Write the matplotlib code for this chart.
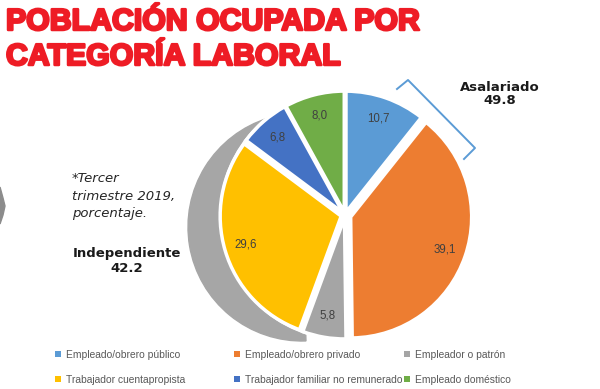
import matplotlib
matplotlib.use("Agg")
import matplotlib.pyplot as plt
import matplotlib.patheffects as pe
from matplotlib.patches import Wedge, Circle, Patch, Polygon

# data
categories = ["Empleado/obrero público", "Empleado/obrero privado", "Empleador o patrón",
              "Trabajador cuentapropista", "Trabajador familiar no remunerado", "Empleado doméstico"]
values = [10.7, 39.1, 5.8, 29.6, 6.8, 8.0]
colors = ["#5B9BD5", "#ED7D31", "#A5A5A5", "#FFC000", "#4472C4", "#70AD47"]
group_labels = ["Asalariado", "Independiente"]
group_values = ["49.8", "42.2"]

W, H = 600, 389


def Y(y):
    # pixel row -> data y (y up)
    return H - y


fig = plt.figure(figsize=(6, 3.89), dpi=100)
ax = fig.add_axes([0, 0, 1, 1])
ax.set_xlim(0, W)
ax.set_ylim(0, H)
ax.set_aspect("equal")
ax.axis("off")

# title
red = "#EE1C25"
thick = [pe.withStroke(linewidth=1.8, foreground=red)]
for txt, yy in [("POBLACIÓN OCUPADA POR", 22), ("CATEGORÍA LABORAL", 57)]:
    ax.text(6, Y(yy), txt, color=red, fontsize=21.8, fontweight="bold",
            family="Liberation Sans", va="center", ha="left",
            path_effects=thick)

# pie
cx, cy, r = 345, Y(215), 121
ax.add_patch(Wedge((302, Y(227)), 114, 107, 272, color="#A6A6A6", zorder=1))
ax.add_patch(Circle((cx, cy), r + 4, color="white", zorder=2))
explode = [3, 6, 3, 4, 3, 3]
wedges, texts = ax.pie(values, colors=colors, startangle=90, counterclock=False,
                       center=(cx, cy), radius=r, explode=explode,
                       labels=[f"{v:.1f}".replace(".", ",") for v in values],
                       labeldistance=0.82,
                       wedgeprops=dict(edgecolor="white", linewidth=2.5),
                       textprops=dict(fontsize=8.3, color="#404040", family="Liberation Sans"))
for w in wedges:
    w.set_zorder(3)
for t in texts:
    t.set_zorder(4)
    t.set_ha("center")
    t.set_va("center")
ax.set_xlim(0, W)
ax.set_ylim(0, H)

# left edge sliver
ax.add_patch(Polygon([(0, Y(187)), (3, Y(198)), (5, Y(206)), (3, Y(215)), (0, Y(224))],
                     closed=True, color="#8C8C8C", zorder=1))

# bracket
ax.plot([397, 408, 475, 464], [Y(89), Y(80), Y(148), Y(159)], color="#5B9BD5", lw=1.4)

# annotations
ax.text(500, Y(94), f"{group_labels[0]}\n{group_values[0]}", ha="center", va="center",
        fontsize=9.5, fontweight="bold", color="#1a1a1a", linespacing=1.0)
ax.text(127, Y(261), f"{group_labels[1]}\n{group_values[1]}", ha="center", va="center",
        fontsize=9.5, fontweight="bold", color="#1a1a1a", linespacing=1.1)
ax.text(72, Y(196), "*Tercer\ntrimestre 2019,\nporcentaje.", ha="left", va="center",
        fontsize=9.5, style="italic", color="#262626", linespacing=1.45)

# legend: three columns, two rows
cols_x = [55, 234, 404]
for i, x0 in enumerate(cols_x):
    idx = [i, i + 3]
    handles = [Patch(facecolor=colors[k], edgecolor="none") for k in idx]
    fig.legend(handles, [categories[k] for k in idx], loc="upper left",
               bbox_to_anchor=(x0 / W, 1 - 350 / H), frameon=False,
               prop=dict(family="Liberation Sans", size=7.4),
               labelcolor="#595959", handlelength=0.55, handleheight=0.55,
               handletextpad=0.55, labelspacing=1.45, borderpad=0, borderaxespad=0)

fig.savefig("out.png", dpi=100)
